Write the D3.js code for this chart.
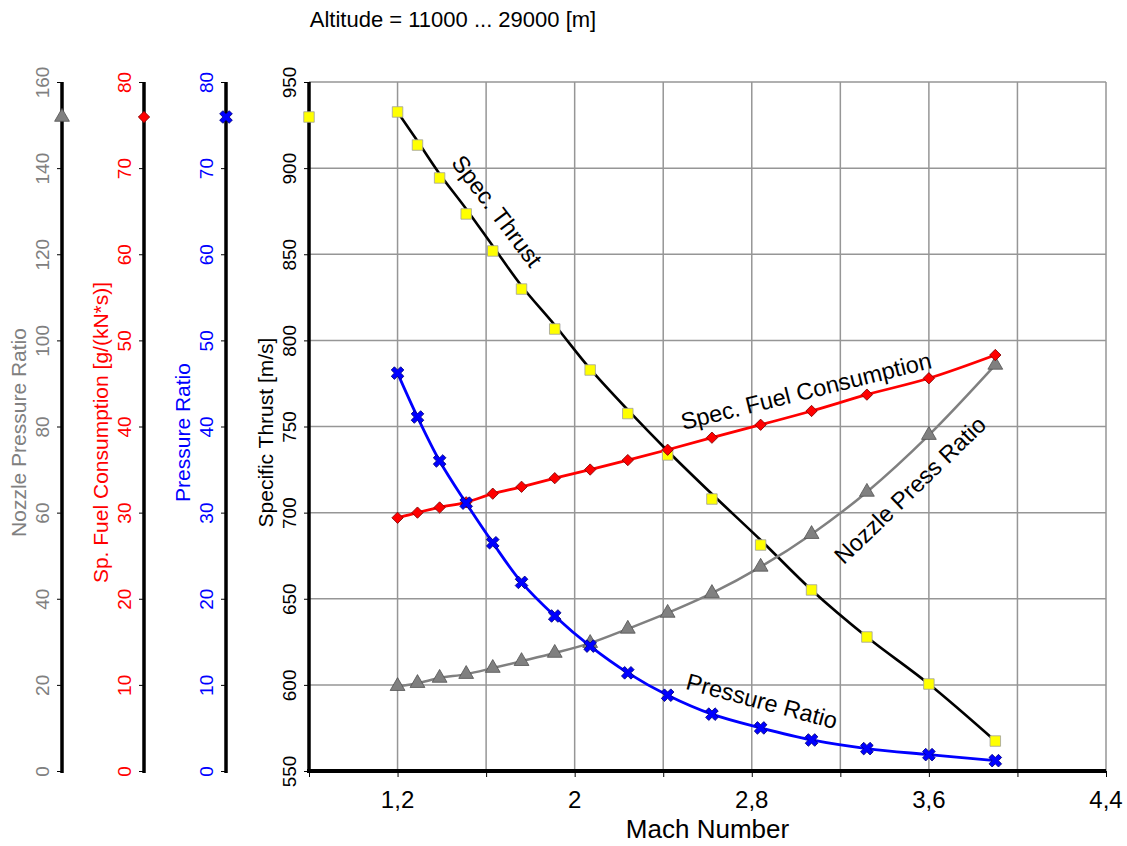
<!DOCTYPE html>
<html><head><meta charset="utf-8">
<script src="https://cdn.jsdelivr.net/npm/d3@7"></script>
<style>
body{margin:0;background:#fff;}
svg{display:block;font-family:Arial,"Liberation Sans",sans-serif;}
</style></head>
<body>
<svg id="chart" width="1127" height="846"></svg>
<script>
// ---- data ----
const title = "Altitude = 11000 ... 29000 [m]";
const mach = [1.2, 1.29, 1.39, 1.51, 1.63, 1.76, 1.91, 2.07, 2.24, 2.42, 2.62, 2.84, 3.07, 3.32, 3.6, 3.9];
const specThrust = [932.6, 913.4, 894.3, 873.4, 851.9, 829.8, 806.6, 782.8, 757.5, 733.5, 707.9, 681.2, 655.1, 627.8, 600.5, 567.4];
const specThrustFit = [932.6, 915.7, 896.6, 876.3, 854.8, 831.6, 808.9, 783.4, 759.6, 735.8, 710.8, 684.1, 655.1, 627.8, 600.5, 567.4];
const sfc = [29.4, 30.0, 30.6, 31.2, 32.2, 33.0, 34.0, 35.0, 36.1, 37.3, 38.7, 40.2, 41.8, 43.7, 45.6, 48.3];
const pressureRatio = [46.2, 41.1, 36.0, 31.1, 26.5, 21.9, 18.0, 14.5, 11.4, 8.8, 6.6, 5.0, 3.6, 2.6, 1.9, 1.2];
const nozzleRatio = [19.7, 20.4, 21.6, 22.5, 23.9, 25.5, 27.4, 29.7, 33.0, 36.7, 41.3, 47.4, 55.0, 64.8, 78.0, 94.3];
const xTicks = [0.8, 1.2, 1.6, 2.0, 2.4, 2.8, 3.2, 3.6, 4.0, 4.4];
const xTickLabels = [1.2, 2.0, 2.8, 3.6, 4.4];
const thrustTicks = [550, 600, 650, 700, 750, 800, 850, 900, 950];
const ratioTicks = [0, 10, 20, 30, 40, 50, 60, 70, 80];
const nozzleTicks = [0, 20, 40, 60, 80, 100, 120, 140, 160];

// ---- layout ----
const svg = d3.select("#chart");
const L = 309, R = 1106, T = 82, B = 771;
const x = d3.scaleLinear().domain([0.8, 4.4]).range([L, R]);
const yThrust = d3.scaleLinear().domain([550, 950]).range([B, T]);
const ySfc = d3.scaleLinear().domain([0, 80]).range([B, T]);
const yPr = d3.scaleLinear().domain([0, 80]).range([B, T]);
const yNoz = d3.scaleLinear().domain([0, 160]).range([B, T]);
const fmt = v => String(+v.toFixed(2)).replace(".", ",");

svg.append("rect").attr("width",1127).attr("height",846).attr("fill","#fff");

// grid
const grid = svg.append("g");
grid.selectAll("line.v").data(xTicks.slice(1)).join("line")
  .attr("x1", d=>x(d)).attr("x2", d=>x(d)).attr("y1", T).attr("y2", B)
  .attr("stroke", "#969696").attr("stroke-width", 1.5);
grid.selectAll("line.h").data(thrustTicks.slice(1)).join("line")
  .attr("x1", L).attr("x2", R).attr("y1", d=>yThrust(d)).attr("y2", d=>yThrust(d))
  .attr("stroke", "#969696").attr("stroke-width", 1.5);

// left axes
function leftAxis(px, scale, ticks, color, label, fontSize) {
  const g = svg.append("g").attr("transform", `translate(${px},0)`);
  const ax = d3.axisLeft(scale).tickValues(ticks).tickSize(5).tickFormat(d3.format("d"));
  g.call(ax);
  g.select(".domain").remove();
  g.selectAll(".tick line").attr("stroke", "#000").attr("stroke-width", 1);
  g.selectAll(".tick text").remove();
  g.selectAll(".tick").append("text")
    .attr("transform", "translate(-20,0) rotate(-90)")
    .attr("text-anchor", "middle").attr("dy", "0.35em")
    .attr("fill", color).attr("font-size", 19)
    .text(d => d);
  g.append("line").attr("x1",0).attr("x2",0).attr("y1",T).attr("y2",B+2)
    .attr("stroke","#000").attr("stroke-width",3.5);
  g.append("text").attr("transform", `translate(-43,${(T+B)/2+6}) rotate(-90)`)
    .attr("text-anchor","middle").attr("dy","0.35em")
    .attr("fill", color).attr("font-size", fontSize).text(label);
  return g;
}
leftAxis(62, yNoz, nozzleTicks, "#808080", "Nozzle Pressure Ratio", 21);
leftAxis(144, ySfc, ratioTicks, "#ff0000", "Sp. Fuel Consumption [g/(kN*s)]", 21);
leftAxis(226, yPr, ratioTicks, "#0000ff", "Pressure Ratio", 21);
leftAxis(L, yThrust, thrustTicks, "#000", "Specific Thrust [m/s]", 21);

// bottom axis
const gx = svg.append("g").attr("transform", `translate(0,${B})`);
gx.call(d3.axisBottom(x).tickValues(xTicks).tickSize(6).tickFormat(""));
gx.select(".domain").remove();
gx.selectAll(".tick line").attr("stroke","#000").attr("stroke-width",1);
gx.append("line").attr("x1",L-2).attr("x2",R).attr("y1",0).attr("y2",0)
  .attr("stroke","#000").attr("stroke-width",4);
gx.selectAll("text.xl").data(xTickLabels).join("text")
  .attr("x", d=>x(d)).attr("y", 37).attr("text-anchor","middle")
  .attr("font-size", 24).attr("fill","#000").text(fmt);
svg.append("text").attr("x", (L+R)/2).attr("y", 838).attr("text-anchor","middle")
  .attr("font-size", 26).text("Mach Number");
svg.append("text").attr("x", 453).attr("y", 27).attr("text-anchor","middle")
  .attr("font-size", 22).text(title);

// series
const pts = (ys, yScale) => mach.map((m,i)=>[x(m), yScale(ys[i])]);
const line = d3.line().curve(d3.curveCatmullRom.alpha(0.5));

svg.append("path").attr("d", line(pts(specThrustFit, yThrust)))
  .attr("fill","none").attr("stroke","#000").attr("stroke-width",2.6);
svg.append("path").attr("d", line(pts(nozzleRatio, yNoz)))
  .attr("fill","none").attr("stroke","#808080").attr("stroke-width",2.5);
svg.append("path").attr("d", line(pts(sfc, ySfc)))
  .attr("fill","none").attr("stroke","#ff0000").attr("stroke-width",2.8);
svg.append("path").attr("d", line(pts(pressureRatio, yPr)))
  .attr("fill","none").attr("stroke","#0000ff").attr("stroke-width",2.8);

const sq = d3.symbol().type(d3.symbolSquare).size(110)();
const dia = d3.symbol().type(d3.symbolSquare).size(64)();
const tri = d3.symbol().type(d3.symbolTriangle).size(95)();
const crs = d3.symbol().type(d3.symbolCross).size(100)();

function markers(data, path, fill, stroke, rot) {
  svg.append("g").selectAll("path").data(data).join("path")
    .attr("d", path)
    .attr("transform", d => `translate(${d[0]},${d[1]}) rotate(${rot||0})`)
    .attr("fill", fill).attr("stroke", stroke).attr("stroke-width", 0.8);
}
markers(pts(specThrust, yThrust), sq, "#ffff00", "#a0a0a0");
markers(pts(nozzleRatio, yNoz), tri, "#808080", "#505050");
markers(pts(sfc, ySfc), dia, "#ff0000", "#800000", 45);
markers(pts(pressureRatio, yPr), crs, "#0000ff", "#000080", 45);

// legend markers on the axes
const legY = T + 35;
markers([[62, legY]], tri, "#808080", "#505050");
markers([[144, legY]], dia, "#ff0000", "#800000", 45);
markers([[226, legY]], crs, "#0000ff", "#000080", 45);
markers([[L, legY]], sq, "#ffff00", "#a0a0a0");

// annotations
function note(txt, cx, cy, ang) {
  svg.append("text").attr("transform", `translate(${cx},${cy}) rotate(${ang})`)
    .attr("text-anchor","middle").attr("dy","0.35em").attr("font-size",23.5).text(txt);
}
note("Spec. Thrust", 497, 211, 53);
note("Spec. Fuel Consumption", 806, 391, -14);
note("Nozzle Press Ratio", 910, 490, -44);
note("Pressure Ratio", 762, 701, 15);
</script>
</body></html>
